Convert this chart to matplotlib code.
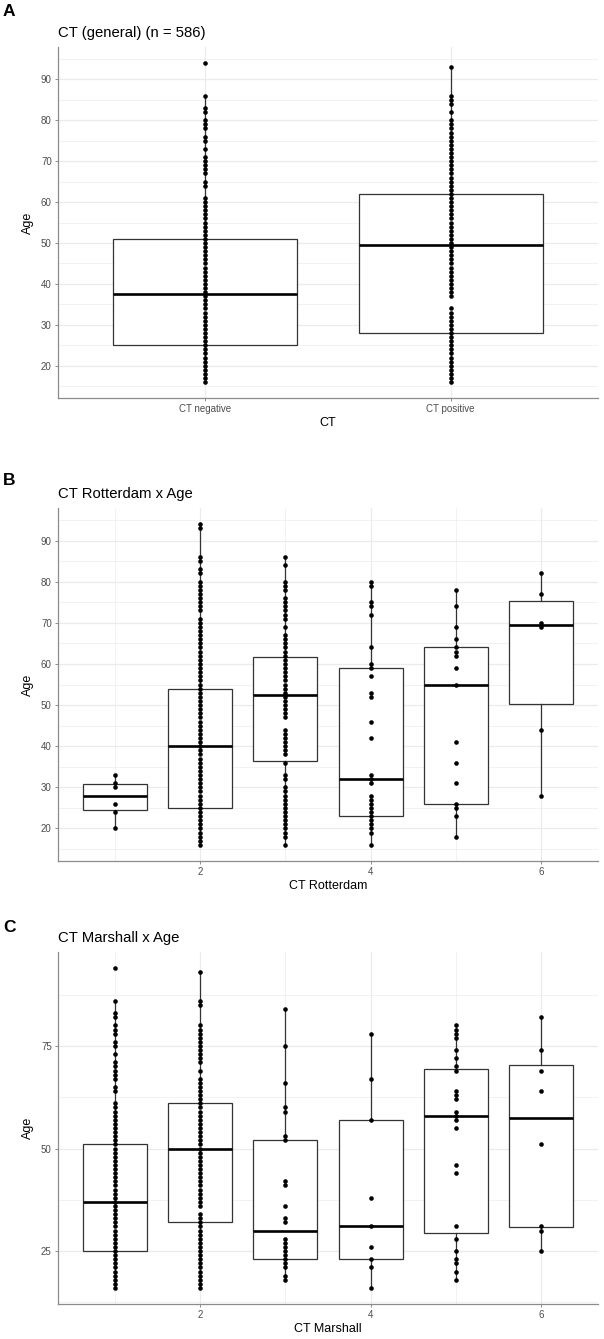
import matplotlib
matplotlib.use("Agg")
import matplotlib.pyplot as plt
import numpy as np

plt.rcParams['font.family'] = ['Liberation Sans', 'DejaVu Sans']

# ---------------- Data ----------------
# Panel A: CT (general)
a_categories = ["CT negative", "CT positive"]
a_neg_ages = [94, 86, 83, 82, 80, 79, 78, 76, 75, 73, 71, 70, 69, 68, 67, 65, 64,
              61, 60, 59, 58, 57, 56, 55, 54, 53, 52, 51, 50, 49, 48, 47, 46, 45,
              44, 43, 42, 41, 40, 39, 38, 37, 36, 35, 34, 33, 32, 31, 30, 29, 28,
              27, 26, 25, 24, 23, 22, 21, 20, 19, 18, 17, 16]
a_pos_ages = [93, 86, 85, 84, 82, 80, 79, 78, 77, 76, 75, 74, 73, 72, 71, 70, 69,
              68, 67, 66, 65, 64, 63, 62, 61, 60, 59, 58, 57, 56, 55, 54, 53, 52,
              51, 50, 49, 48, 47, 46, 45, 44, 43, 42, 41, 40, 39, 38, 37, 34, 33,
              32, 31, 30, 29, 28, 27, 26, 25, 24, 23, 22, 21, 20, 19, 18, 17, 16]
a_q1 = [25, 28]
a_med = [37.5, 49.5]
a_q3 = [51, 62]
a_whislo = [16, 16]
a_whishi = [86, 93]

# Panel B: CT Rotterdam
b_groups = [1, 2, 3, 4, 5, 6]
b_ages = [
    [33, 31, 30, 26, 24, 20],
    [94, 93, 86, 85, 83, 82, 80, 79, 78, 77, 76, 75, 74, 73, 71, 70, 69, 68, 67,
     66, 65, 64, 63, 62, 61, 60, 59, 58, 57, 56, 55, 54, 53, 52, 51, 50, 49, 48,
     47, 46, 45, 44, 43, 42, 41, 40, 39, 38, 37, 36, 35, 34, 33, 32, 31, 30, 29,
     28, 27, 26, 25, 24, 23, 22, 21, 20, 19, 18, 17, 16],
    [86, 84, 80, 79, 78, 76, 75, 74, 73, 72, 71, 69, 67, 66, 65, 64, 63, 62, 61,
     60, 59, 58, 57, 56, 55, 54, 53, 52, 51, 50, 49, 48, 47, 44, 43, 42, 41, 40,
     39, 38, 36, 33, 32, 30, 29, 28, 27, 26, 25, 24, 23, 22, 21, 20, 19, 18, 16],
    [80, 79, 75, 74, 72, 64, 60, 59, 57, 53, 52, 46, 42, 33, 32, 31, 28, 27, 26,
     25, 24, 23, 22, 21, 20, 19, 16],
    [78, 74, 69, 66, 64, 63, 62, 59, 55, 41, 36, 31, 26, 25, 23, 18],
    [82, 77, 70, 69, 44, 28],
]
b_q1 = [24.5, 25, 36.5, 23, 26, 50.25]
b_med = [28, 40, 52.5, 32, 55, 69.5]
b_q3 = [30.75, 54, 61.75, 59, 64, 75.25]
b_whislo = [20, 16, 16, 16, 18, 28]
b_whishi = [33, 94, 86, 80, 78, 82]

# Panel C: CT Marshall
c_groups = [1, 2, 3, 4, 5, 6]
c_ages = [
    [94, 86, 83, 82, 80, 79, 78, 76, 75, 73, 71, 70, 69, 68, 67, 65, 64, 61, 60,
     59, 58, 57, 56, 55, 54, 53, 52, 51, 50, 49, 48, 47, 46, 45, 44, 43, 42, 41,
     40, 39, 38, 37, 36, 35, 34, 33, 32, 31, 30, 29, 28, 27, 26, 25, 24, 23, 22,
     21, 20, 19, 18, 17, 16],
    [93, 86, 85, 80, 79, 78, 77, 76, 75, 74, 73, 72, 71, 69, 67, 66, 65, 64, 63,
     62, 61, 60, 59, 58, 57, 56, 55, 54, 53, 52, 51, 50, 49, 48, 47, 46, 45, 44,
     43, 42, 41, 40, 39, 38, 37, 36, 34, 33, 32, 31, 30, 29, 28, 27, 26, 25, 24,
     23, 22, 21, 20, 19, 18, 17, 16],
    [84, 75, 66, 60, 59, 53, 52, 42, 41, 36, 33, 32, 28, 27, 26, 25, 24, 23, 22,
     21, 19, 18],
    [78, 67, 57, 38, 31, 26, 23, 21, 16],
    [80, 79, 78, 77, 74, 72, 70, 69, 64, 63, 62, 59, 58, 57, 55, 46, 44, 31, 28,
     25, 23, 22, 20, 18],
    [82, 74, 69, 64, 51, 31, 30, 25],
]
c_q1 = [25, 32, 23, 23, 29.5, 30.75]
c_med = [37, 50, 30, 31, 58, 57.5]
c_q3 = [51, 61, 52, 57, 69.5, 70.25]
c_whislo = [16, 16, 18, 16, 18, 25]
c_whishi = [86, 93, 84, 78, 80, 82]

# ---------------- Style ----------------
GRID = "#EBEBEB"
SPINE = "#8C8C8C"
TICKC = "#4D4D4D"
BOXC = "#333333"

fig = plt.figure(figsize=(6.04, 13.39), dpi=100)

L, R = 58 / 604, 598 / 604
H = 1339.0


def make_ax(top_px, bot_px):
    return fig.add_axes([L, 1 - bot_px / H, R - L, (bot_px - top_px) / H])


def style(ax, yticks, yminor, xticks, xminor, xlabels, xlim):
    ax.set_xlim(*xlim)
    ax.set_ylim(12.1, 97.9)
    ax.set_yticks(yticks)
    ax.set_yticks(yminor, minor=True)
    ax.set_xticks(xticks)
    ax.set_xticklabels(xlabels)
    ax.set_xticks(xminor, minor=True)
    ax.grid(True, which="major", color=GRID, lw=0.9, zorder=0)
    ax.grid(True, which="minor", color=GRID, lw=0.45, zorder=0)
    ax.set_axisbelow(True)
    for s in ["top", "right"]:
        ax.spines[s].set_visible(False)
    for s in ["left", "bottom"]:
        ax.spines[s].set_color(SPINE)
        ax.spines[s].set_linewidth(0.9)
    ax.tick_params(which="major", length=2.5, width=0.7, color=SPINE,
                   labelsize=7, labelcolor=TICKC, pad=2)
    ax.tick_params(which="minor", length=0)


def draw_boxes(ax, positions, q1, med, q3, lo, hi, ages):
    stats = []
    for i in range(len(positions)):
        stats.append(dict(med=med[i], q1=q1[i], q3=q3[i], whislo=lo[i],
                          whishi=hi[i], fliers=[]))
    ax.bxp(stats, positions=positions, widths=0.75, showfliers=False,
           showcaps=False, patch_artist=True,
           boxprops=dict(facecolor="white", edgecolor=BOXC, lw=0.9),
           whiskerprops=dict(color=BOXC, lw=0.9),
           medianprops=dict(color="black", lw=1.9), zorder=2)
    for p, vals in zip(positions, ages):
        ax.plot(np.full(len(vals), p), vals, "o", ms=3.3, color="black",
                mec="black", mew=0, zorder=3)


def labels(ax, letter, letter_y, title, title_y, xlab, ylab):
    fig.text(3 / 604, 1 - letter_y / H, letter, fontsize=12.5,
             fontweight="bold", va="center", ha="left")
    fig.text(L, 1 - title_y / H, title, fontsize=10.7, va="center", ha="left")
    ax.set_xlabel(xlab, fontsize=9, labelpad=2)
    ax.set_ylabel(ylab, fontsize=9, labelpad=5)


# ---- Panel A ----
axA = make_ax(47, 398)
draw_boxes(axA, [1, 2], a_q1, a_med, a_q3, a_whislo, a_whishi,
           [a_neg_ages, a_pos_ages])
style(axA, [20, 30, 40, 50, 60, 70, 80, 90], [15, 25, 35, 45, 55, 65, 75, 85, 95],
      [1, 2], [], a_categories, (0.4, 2.6))
labels(axA, "A", 12, "CT (general) (n = 586)", 33, "CT", "Age")

# ---- Panel B ----
axB = make_ax(508, 861)
draw_boxes(axB, b_groups, b_q1, b_med, b_q3, b_whislo, b_whishi, b_ages)
style(axB, [20, 30, 40, 50, 60, 70, 80, 90], [15, 25, 35, 45, 55, 65, 75, 85, 95],
      [2, 4, 6], [1, 3, 5], ["2", "4", "6"], (0.3375, 6.6625))
labels(axB, "B", 480, "CT Rotterdam x Age", 494, "CT Rotterdam", "Age")

# ---- Panel C ----
axC = make_ax(952, 1304)
draw_boxes(axC, c_groups, c_q1, c_med, c_q3, c_whislo, c_whishi, c_ages)
style(axC, [25, 50, 75], [12.5, 37.5, 62.5, 87.5],
      [2, 4, 6], [1, 3, 5], ["2", "4", "6"], (0.3375, 6.6625))
labels(axC, "C", 927, "CT Marshall x Age", 938, "CT Marshall", "Age")

fig.savefig("out.png", dpi=100)
